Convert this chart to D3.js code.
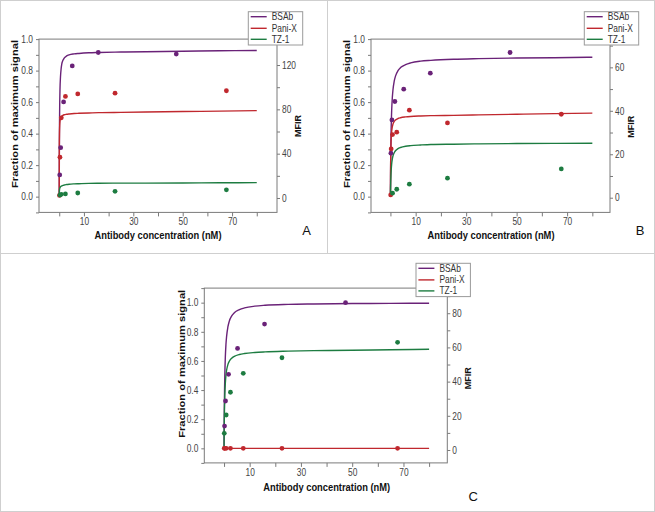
<!DOCTYPE html>
<html><head><meta charset="utf-8">
<script src="https://cdn.jsdelivr.net/npm/d3@7/dist/d3.min.js"></script>
<style>body{margin:0;background:#fff}svg{display:block}</style>
</head><body><svg id="c" width="655" height="512"></svg>
<script>
// ---------- DATA ----------
const seriesNames = ["BSAb", "Pani-X", "TZ-1"];
const xTickValues = [0, 10, 20, 30, 40, 50, 60, 70, 80];
const xTickLabels = [10, 30, 50, 70];
const yTickLabels = [0, 0.2, 0.4, 0.6, 0.8, 1.0];

// fitted curve samples (antibody concentration, nM)
const fitX = [0, 0.02, 0.05, 0.1, 0.2, 0.3, 0.5, 0.75, 1, 1.5, 2, 3, 4, 6, 8, 12, 16, 25, 35, 50, 65, 80];
const fitA_BSAb = [0, 0.15, 0.30, 0.45, 0.60, 0.68, 0.76, 0.81, 0.84, 0.865, 0.88, 0.893, 0.90, 0.906, 0.909, 0.913, 0.915, 0.918, 0.920, 0.923, 0.926, 0.928];
const fitA_PaniX = [0, 0.21, 0.33, 0.40, 0.455, 0.478, 0.495, 0.505, 0.51, 0.516, 0.52, 0.523, 0.525, 0.528, 0.529, 0.531, 0.533, 0.535, 0.537, 0.540, 0.543, 0.546];
const fitA_TZ1 = [0, 0.015, 0.03, 0.042, 0.052, 0.057, 0.062, 0.066, 0.068, 0.071, 0.074, 0.077, 0.079, 0.081, 0.082, 0.084, 0.085, 0.086, 0.086, 0.087, 0.088, 0.089];
const fitB_BSAb = [0, 0.055, 0.125, 0.22, 0.352, 0.44, 0.55, 0.629, 0.677, 0.733, 0.765, 0.80, 0.819, 0.838, 0.849, 0.860, 0.865, 0.872, 0.876, 0.880, 0.882, 0.885];
const fitB_PaniX = [0, 0.074, 0.151, 0.234, 0.322, 0.368, 0.415, 0.444, 0.46, 0.477, 0.486, 0.496, 0.501, 0.506, 0.509, 0.512, 0.514, 0.516, 0.519, 0.523, 0.527, 0.530];
const fitB_TZ1 = [0, 0.021, 0.048, 0.084, 0.134, 0.168, 0.209, 0.239, 0.258, 0.279, 0.291, 0.305, 0.312, 0.320, 0.324, 0.328, 0.331, 0.333, 0.335, 0.337, 0.338, 0.339];
const fitC_BSAb = [0, 0.0625, 0.143, 0.25, 0.40, 0.50, 0.625, 0.714, 0.769, 0.833, 0.870, 0.909, 0.930, 0.952, 0.964, 0.976, 0.982, 0.988, 0.991, 0.994, 0.995, 0.996];
const fitC_PaniX = [0, 0, 0, 0, 0, 0, 0, 0, 0, 0, 0, 0, 0, 0, 0, 0, 0, 0, 0, 0, 0, 0];
const fitC_TZ1 = [0, 0.051, 0.112, 0.191, 0.298, 0.366, 0.447, 0.503, 0.536, 0.575, 0.596, 0.619, 0.631, 0.644, 0.651, 0.658, 0.662, 0.667, 0.671, 0.673, 0.677, 0.680];

// measured points
const ptsX_BSAb = [0.195, 0.585, 1.76, 5.27, 15.8, 47.4];
const ptsX_PaniX = [0.09, 0.28, 0.84, 2.5, 7.5, 22.6, 67.7];
const ptsA_BSAb = [0.138, 0.311, 0.601, 0.830, 0.915, 0.905];
const ptsA_PaniX = [0.008, 0.25, 0.50, 0.636, 0.652, 0.657, 0.672];
const ptsXA_TZ1 = [0.28, 0.84, 2.5, 7.5, 22.6, 67.7];
const ptsA_TZ1 = [0.01, 0.015, 0.017, 0.023, 0.034, 0.043];
const ptsB_BSAb = [0.276, 0.487, 0.604, 0.682, 0.784, 0.915];
const ptsB_PaniX = [0.011, 0.303, 0.394, 0.409, 0.549, 0.468, 0.523];
const ptsXB_TZ1 = [0.84, 2.5, 7.5, 22.6, 67.7];
const ptsB_TZ1 = [0.022, 0.047, 0.079, 0.117, 0.176];
const ptsC_BSAb = [0.153, 0.325, 0.508, 0.686, 0.853, 1.0];
const ptsC_PaniX = [0, 0, 0, 0, 0, 0, 0];
const ptsXC_TZ1 = [0.09, 0.84, 2.5, 7.5, 22.6, 67.7];
const ptsC_TZ1 = [0.103, 0.229, 0.385, 0.515, 0.622, 0.728];

// right axis (MFIR) ticks
const mfirA_ticks = [0, 40, 80, 120];
const mfirB_ticks = [0, 20, 40, 60];
const mfirC_ticks = [0, 20, 40, 60, 80];

// ---------- DRAWING ----------
const svg = d3.select("#c");
const FONT = "'Liberation Sans', Arial, Helvetica, sans-serif";
const SX = 0.84;
const colors = {"BSAb": "#6a2278", "Pani-X": "#c0282e", "TZ-1": "#1d7c41"};
const AX = "#7a7a7a";

// page borders
svg.append("rect").attr("x", 0.5).attr("y", 0.5).attr("width", 654).attr("height", 511)
  .attr("fill", "none").attr("stroke", "#cfcfcf");
svg.append("line").attr("x1", 327.5).attr("x2", 327.5).attr("y1", 0).attr("y2", 253)
  .attr("stroke", "#cfcfcf");
svg.append("line").attr("x1", 0).attr("x2", 655).attr("y1", 253.5).attr("y2", 253.5)
  .attr("stroke", "#cfcfcf");

const zip = (xs, ys) => xs.map((d, i) => [d, ys[i]]);

const panels = [
  {letter: "A", xr: [39, 277], xd: [-8.2, 88.2], yr: [212.4, 39.1], yd: [-0.1, 1.0],
   rd: [-13, 143.4], rTicks: mfirA_ticks, rStep: 20,
   fits: [fitA_BSAb, fitA_PaniX, fitA_TZ1],
   pts: [zip(ptsX_BSAb, ptsA_BSAb), zip(ptsX_PaniX, ptsA_PaniX), zip(ptsXA_TZ1, ptsA_TZ1)],
   legend: [248.3, 11.7], letterPos: [306.7, 230], xTitle: [158, 235], yTitle: [15, 114], mfir: [298.3, 126]},
  {letter: "B", xr: [371, 610], xd: [-7.7, 87], yr: [212.4, 39.1], yd: [-0.1, 1.0],
   rd: [-6.76, 73.0], rTicks: mfirB_ticks, rStep: 10,
   fits: [fitB_BSAb, fitB_PaniX, fitB_TZ1],
   pts: [zip(ptsX_BSAb, ptsB_BSAb), zip(ptsX_PaniX, ptsB_PaniX), zip(ptsXB_TZ1, ptsB_TZ1)],
   legend: [584.3, 11.7], letterPos: [640, 230], xTitle: [491, 235], yTitle: [346.7, 114], mfir: [631, 126.7]},
  {letter: "C", xr: [204.3, 447.3], xd: [-7.7, 87.1], yr: [462.9, 288.1], yd: [-0.1, 1.1],
   rd: [-7.55, 94.7], rTicks: mfirC_ticks, rStep: 10,
   fits: [fitC_BSAb, fitC_PaniX, fitC_TZ1],
   pts: [zip(ptsX_BSAb, ptsC_BSAb), zip(ptsX_PaniX, ptsC_PaniX), zip(ptsXC_TZ1, ptsC_TZ1)],
   legend: [416, 263.3], letterPos: [473.3, 496.7], xTitle: [326.7, 486.7], yTitle: [181.7, 363.8], mfir: [468.3, 378.3]}
];

function styleAxis(g) {
  g.select(".domain").remove();
  g.selectAll(".tick line").attr("stroke", AX);
  g.selectAll(".tick text").attr("fill", "#444").attr("font-family", FONT).attr("font-size", 10);
}

panels.forEach(p => {
  const x = d3.scaleLinear().domain(p.xd).range(p.xr);
  const y = d3.scaleLinear().domain(p.yd).range(p.yr);
  const r = d3.scaleLinear().domain(p.rd).range(p.yr);
  const g = svg.append("g");

  // frame
  g.append("rect").attr("x", p.xr[0]).attr("y", p.yr[1])
    .attr("width", p.xr[1] - p.xr[0]).attr("height", p.yr[0] - p.yr[1])
    .attr("fill", "none").attr("stroke", AX).attr("stroke-width", 1);

  // bottom axis
  const gx = g.append("g").attr("transform", `translate(0,${p.yr[0]})`)
    .call(d3.axisBottom(x).tickValues(xTickValues).tickSize(4).tickPadding(2)
      .tickFormat(d => xTickLabels.includes(d) ? d : ""));
  styleAxis(gx);
  gx.selectAll(".tick text").attr("transform", `scale(${SX},1)`);

  // left axis: major + minor
  const yMinor = d3.range(-0.1, p.yd[1] + 0.001, 0.2).map(v => +v.toFixed(1)).filter(v => !yTickLabels.includes(v));
  const gy = g.append("g").attr("transform", `translate(${p.xr[0]},0)`)
    .call(d3.axisLeft(y).tickValues(yTickLabels).tickSize(3).tickFormat(d3.format(".1f")));
  styleAxis(gy);
  gy.selectAll(".tick text").attr("x", -6 / SX).attr("transform", `scale(${SX},1)`);
  const gy2 = g.append("g").attr("transform", `translate(${p.xr[0]},0)`)
    .call(d3.axisLeft(y).tickValues(yMinor).tickSize(3).tickFormat(""));
  styleAxis(gy2);

  // right axis: major + minor
  const rMinor = d3.range(p.rTicks[0] + p.rStep, p.rd[1], 2 * p.rStep).concat([p.rTicks[0] - p.rStep]).filter(v => v >= p.rd[0] && v <= p.rd[1]);
  const gr = g.append("g").attr("transform", `translate(${p.xr[1]},0)`)
    .call(d3.axisRight(r).tickValues(p.rTicks).tickSize(3).tickFormat(d3.format("d")));
  styleAxis(gr);
  gr.selectAll(".tick text").attr("x", 5 / SX).attr("transform", `scale(${SX},1)`);
  const gr2 = g.append("g").attr("transform", `translate(${p.xr[1]},0)`)
    .call(d3.axisRight(r).tickValues(rMinor).tickSize(3).tickFormat(""));
  styleAxis(gr2);

  // curves
  const line = d3.line().x(d => x(d[0])).y(d => y(d[1])).curve(d3.curveMonotoneX);
  seriesNames.forEach((s, i) => {
    g.append("path").datum(zip(fitX, p.fits[i]))
      .attr("d", line).attr("fill", "none").attr("stroke", colors[s]).attr("stroke-width", 1.4);
  });
  // points
  seriesNames.forEach((s, i) => {
    g.selectAll(null).data(p.pts[i]).enter().append("circle")
      .attr("cx", d => x(d[0])).attr("cy", d => y(d[1])).attr("r", 2.4)
      .attr("fill", colors[s]);
  });

  // titles
  g.append("text").attr("x", p.xTitle[0]).attr("y", p.xTitle[1] + 4)
    .attr("text-anchor", "middle").attr("font-family", FONT).attr("font-weight", "bold")
    .attr("font-size", 11).attr("fill", "#111")
    .attr("textLength", 127).attr("lengthAdjust", "spacingAndGlyphs")
    .text("Antibody concentration (nM)");
  g.append("text").attr("transform", `translate(${p.yTitle[0]},${p.yTitle[1]}) scale(${SX},1) rotate(-90)`)
    .attr("text-anchor", "middle").attr("dy", "0.35em").attr("font-family", FONT).attr("font-weight", "bold")
    .attr("font-size", 11).attr("fill", "#111")
    .attr("textLength", 148).attr("lengthAdjust", "spacingAndGlyphs")
    .text("Fraction of maximum signal");
  g.append("text").attr("transform", `translate(${p.mfir[0]},${p.mfir[1]}) scale(${SX},1) rotate(-90)`)
    .attr("text-anchor", "middle").attr("dy", "0.35em").attr("font-family", FONT).attr("font-weight", "bold")
    .attr("font-size", 10.5).attr("fill", "#111")
    .attr("textLength", 22).attr("lengthAdjust", "spacingAndGlyphs")
    .text("MFIR");
  g.append("text").attr("x", p.letterPos[0]).attr("y", p.letterPos[1] + 4.7)
    .attr("text-anchor", "middle").attr("font-family", FONT).attr("font-size", 13)
    .attr("fill", "#111").text(p.letter);

  // legend
  const lg = g.append("g").attr("transform", `translate(${p.legend[0]},${p.legend[1]})`);
  lg.append("rect").attr("x", 0).attr("y", 0).attr("width", 54.4).attr("height", 33.3)
    .attr("fill", "#fff").attr("stroke", "#9a9a9a");
  const rows = [5, 16.6, 27.6];
  seriesNames.forEach((s, i) => {
    lg.append("line").attr("x1", 2.4).attr("x2", 18.4).attr("y1", rows[i]).attr("y2", rows[i])
      .attr("stroke", colors[s]).attr("stroke-width", 1.4);
    lg.append("text").attr("transform", `translate(23.4,${rows[i]}) scale(${SX},1)`)
      .attr("dy", "0.35em").attr("font-family", FONT).attr("font-size", 10).attr("fill", "#333")
      .text(s);
  });
});
</script></body></html>
